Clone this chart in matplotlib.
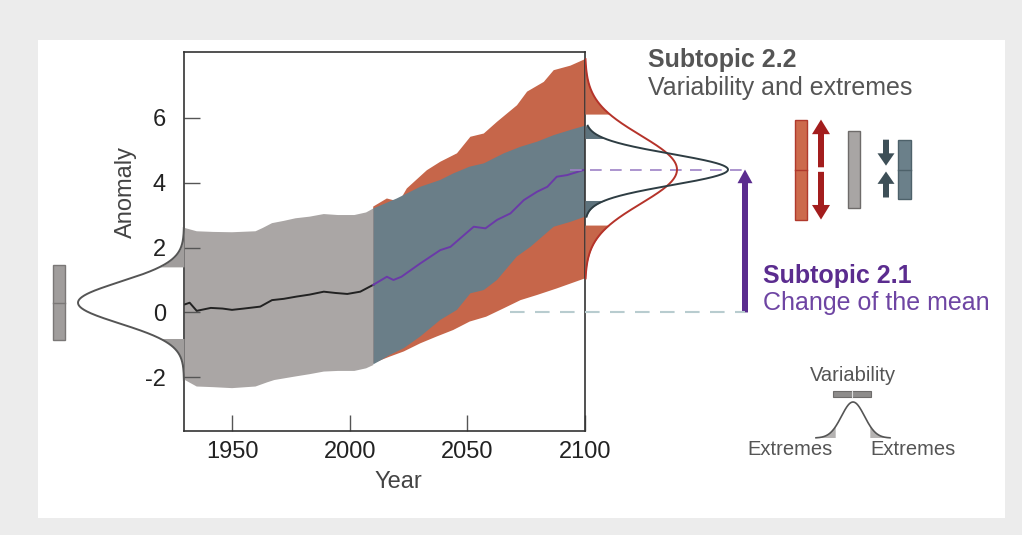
import numpy as np
import matplotlib
matplotlib.use("Agg")
import matplotlib.pyplot as plt
from matplotlib.patches import Rectangle, FancyArrow

plt.rcParams['font.family'] = ['Liberation Sans', 'DejaVu Sans']
plt.rcParams['axes.unicode_minus'] = False

# ---------------- data ----------------
hist_years = [1930, 1932, 1935, 1941, 1946, 1950, 1955, 1962, 1967, 1972, 1977.5, 1983, 1989, 1994, 1999, 2004.5, 2010]
hist_mean = [0.25, 0.3, 0.05, 0.14, 0.12, 0.08, 0.12, 0.18, 0.38, 0.42, 0.49, 0.55, 0.64, 0.6, 0.57, 0.64, 0.85]

gray_up_years = [1930, 1935, 1942, 1950, 1960, 1963, 1967, 1972, 1977, 1983, 1989, 1995, 2002, 2007, 2010]
gray_up = [2.6, 2.5, 2.48, 2.47, 2.5, 2.6, 2.75, 2.82, 2.9, 2.95, 3.03, 3.0, 3.0, 3.08, 3.2]
gray_lo_years = [1930, 1935, 1942, 1950, 1960, 1965, 1968, 1977, 1983, 1989, 1995, 2002, 2007, 2010]
gray_lo = [-2.08, -2.28, -2.3, -2.33, -2.28, -2.15, -2.08, -1.97, -1.9, -1.82, -1.8, -1.8, -1.72, -1.62]

proj_years = [2010, 2015.8, 2018.6, 2022, 2030, 2038.5, 2042.8, 2052.7, 2057.7, 2062.6, 2068.3, 2074, 2079.7, 2084, 2088, 2092.4, 2100]
proj_mean = [0.85, 1.1, 1.0, 1.1, 1.51, 1.92, 2.02, 2.64, 2.59, 2.85, 3.05, 3.46, 3.72, 3.87, 4.18, 4.23, 4.4]

red_up_years = [2010, 2015.8, 2021, 2024.3, 2032.8, 2038.5, 2045.6, 2051.3, 2057, 2062.6, 2071.1, 2075.4, 2082.5, 2086.7, 2093.8, 2100]
red_up = [3.26, 3.51, 3.41, 3.82, 4.38, 4.64, 4.9, 5.41, 5.51, 5.87, 6.38, 6.8, 7.1, 7.46, 7.6, 7.8]
red_lo_years = [2010, 2017, 2023, 2030, 2037, 2044, 2051, 2058, 2065.5, 2072.6, 2079.7, 2088, 2100]
red_lo = [-1.56, -1.36, -1.2, -0.95, -0.74, -0.54, -0.28, -0.13, 0.13, 0.38, 0.54, 0.74, 1.05]

blue_up_years = [2010, 2020, 2030, 2038.5, 2044, 2051, 2057, 2065.5, 2072.5, 2079.7, 2086.7, 2093.8, 2100]
blue_up = [3.2, 3.51, 3.87, 4.08, 4.28, 4.49, 4.59, 4.9, 5.1, 5.26, 5.46, 5.62, 5.75]
blue_lo_years = [2010, 2013, 2017, 2023, 2030, 2038.5, 2045.6, 2051.3, 2057, 2062.6, 2071, 2076.8, 2086.7, 2093.8, 2100]
blue_lo = [-1.6, -1.48, -1.31, -1.1, -0.74, -0.23, 0.08, 0.59, 0.69, 1.0, 1.72, 2.02, 2.64, 2.79, 2.95]

# distribution parameters (mean, spread, tail threshold)
start_mean, start_sd, start_tail = 0.3, 0.64, 1.1
end_mean = 4.4
blue_sd, blue_tail = 0.48, 0.95
red_sd, red_tail = 1.05, 1.7

x_ticks = [1950, 2000, 2050, 2100]
y_ticks = [-2, 0, 2, 4, 6]

# ---------------- colours ----------------
C_GRAY = '#aaa6a5'
C_BLUE = '#6a7e88'
C_RED = '#c6664a'
C_PURPLE = '#5b2c8f'
C_TXT = '#555555'

W, H = 1022, 535
fig = plt.figure(figsize=(W / 100, H / 100), dpi=100, facecolor='#ececec')


def px_ax(l, t, r, b, **kw):
    return fig.add_axes([l / W, 1 - b / H, (r - l) / W, (b - t) / H], **kw)


bg = fig.add_axes([0, 0, 1, 1])
bg.set_xlim(0, W)
bg.set_ylim(H, 0)
bg.axis('off')
bg.add_patch(Rectangle((38, 40), 967, 478, color='white', lw=0))

YLIM = (-3.65, 8.02)
ax = px_ax(184, 52, 585, 431)
ax.set_xlim(1929.6, 2100)
ax.set_ylim(*YLIM)

ax.fill(np.r_[red_up_years, red_lo_years[::-1]], np.r_[red_up, red_lo[::-1]], color=C_RED, lw=0)
ax.fill(np.r_[blue_up_years, blue_lo_years[::-1]], np.r_[blue_up, blue_lo[::-1]], color=C_BLUE, lw=0)
ax.fill(np.r_[gray_up_years, gray_lo_years[::-1]], np.r_[gray_up, gray_lo[::-1]], color=C_GRAY, lw=0)
ax.plot(hist_years, hist_mean, color='#222222', lw=1.4)
ax.plot(proj_years, proj_mean, color='#6a3aa8', lw=1.4)

ax.set_xticks(x_ticks)
ax.set_yticks(y_ticks)
ax.tick_params(direction='in', length=11.5, width=1.0, color='#555555',
               labelsize=17, labelcolor='#222222')
ax.tick_params(axis='y', pad=13)
ax.tick_params(axis='x', pad=7)
for s in ax.spines.values():
    s.set_color('#333333')
    s.set_linewidth(1.2)
ax.set_xlabel('Year', fontsize=17, color='#444444')
ax.set_ylabel('Anomaly', fontsize=17, color='#444444')
ax.xaxis.set_label_coords((398 - 184) / 401, (431 - 471) / 379)
ax.yaxis.set_label_coords((137 - 184) / 401, (431 - 192) / 379)

# ---------------- left distribution ----------------
lax = px_ax(40, 52, 184, 431)
lax.set_xlim(144, 0)
lax.set_ylim(*YLIM)
lax.axis('off')
yy = np.linspace(gray_lo[0], gray_up[0], 400)
g = 106 * np.exp(-0.5 * ((yy - start_mean) / start_sd) ** 2)
lax.fill_betweenx(yy, 0, g, where=yy >= start_mean + start_tail, color='#a09d9c', lw=0, interpolate=True)
lax.fill_betweenx(yy, 0, g, where=yy <= start_mean - start_tail, color='#a09d9c', lw=0, interpolate=True)
lax.plot(g, yy, color='#555555', lw=1.4)
lax.add_patch(Rectangle((119, start_mean - 1.15), 12, 2.3, facecolor='#a09d9c', edgecolor='#7a7776', lw=1.0))
lax.plot([119, 131], [start_mean, start_mean], color='#7a7776', lw=1.0)

# ---------------- right distributions and icons ----------------
rax = px_ax(585, 52, 1004, 431)
rax.set_xlim(0, 419)
rax.set_ylim(*YLIM)
rax.axis('off')

rax.plot([-75, 160], [0, 0], color='#b8cccf', lw=1.5, dashes=(7, 5), clip_on=False)
rax.plot([-15, 160], [end_mean, end_mean], color='#9d82c6', lw=1.2, dashes=(7, 5), clip_on=False)

yr = np.linspace(red_lo[-1], red_up[-1], 400)
gr = 92 * np.exp(-0.5 * ((yr - end_mean) / red_sd) ** 2)
rax.fill_betweenx(yr, 0, gr, where=yr >= end_mean + red_tail, color=C_RED, lw=0, interpolate=True)
rax.fill_betweenx(yr, 0, gr, where=yr <= end_mean - red_tail, color=C_RED, lw=0, interpolate=True)
rax.plot(gr, yr, color='#b5332a', lw=1.4)

yb = np.linspace(blue_lo[-1], blue_up[-1], 400)
gb = 143 * np.exp(-0.5 * ((yb - end_mean) / blue_sd) ** 2)
rax.fill_betweenx(yb, 0, gb, where=yb >= end_mean + blue_tail, color='#5d727c', lw=0, interpolate=True)
rax.fill_betweenx(yb, 0, gb, where=yb <= end_mean - blue_tail, color='#5d727c', lw=0, interpolate=True)
rax.plot(gb, yb, color='#2e3d43', lw=1.4)

# change-of-mean arrow
rax.add_patch(FancyArrow(160, 0, 0, end_mean, width=6, head_width=15, head_length=0.42,
                         length_includes_head=True, color=C_PURPLE, lw=0))

# variability icons
rax.add_patch(Rectangle((210, end_mean - 1.54), 12, 3.08, facecolor='#cc6a4c', edgecolor='#b0392c', lw=1.0))
rax.plot([210, 222], [end_mean, end_mean], color='#b0392c', lw=1.0)
rax.add_patch(FancyArrow(236, end_mean + 0.07, 0, 1.47, width=6, head_width=18, head_length=0.45,
                         length_includes_head=True, color='#a31d1d', lw=0))
rax.add_patch(FancyArrow(236, end_mean - 0.07, 0, -1.47, width=6, head_width=18, head_length=0.45,
                         length_includes_head=True, color='#a31d1d', lw=0))
rax.add_patch(Rectangle((263, end_mean - 1.18), 12, 2.36, facecolor='#a8a5a4', edgecolor='#6e6b6a', lw=1.0))
rax.add_patch(FancyArrow(301, end_mean + 0.92, 0, -0.8, width=6, head_width=17, head_length=0.38,
                         length_includes_head=True, color='#3d4f57', lw=0))
rax.add_patch(FancyArrow(301, end_mean - 0.86, 0, 0.8, width=6, head_width=17, head_length=0.38,
                         length_includes_head=True, color='#3d4f57', lw=0))
rax.add_patch(Rectangle((313, end_mean - 0.92), 13, 1.84, facecolor='#6b808a', edgecolor='#4d616a', lw=1.0))
rax.plot([313, 326], [end_mean, end_mean], color='#4d616a', lw=1.0)

# ---------------- texts ----------------
bg.text(648, 67, 'Subtopic 2.2', fontsize=18, fontweight='bold', color=C_TXT, va='baseline')
bg.text(648, 95, 'Variability and extremes', fontsize=18, color=C_TXT, va='baseline')
bg.text(763, 283, 'Subtopic 2.1', fontsize=18, fontweight='bold', color=C_PURPLE, va='baseline')
bg.text(763, 310, 'Change of the mean', fontsize=18, color='#6e45a3', va='baseline')

# legend-like schematic (bottom right)
bg.text(853, 381, 'Variability', fontsize=14.5, color=C_TXT, ha='center', va='baseline')
bg.text(790, 455, 'Extremes', fontsize=14.5, color=C_TXT, ha='center', va='baseline')
bg.text(913, 455, 'Extremes', fontsize=14.5, color=C_TXT, ha='center', va='baseline')
bg.add_patch(Rectangle((833, 391), 38, 6, facecolor='#8e8c8b', edgecolor='#6e6c6b', lw=0.8))
bg.plot([852, 852], [391, 397], color='#dddddd', lw=0.8)
sx = np.linspace(-37, 37, 200)
sy = 438 - 36 * np.exp(-0.5 * (sx / 11.5) ** 2)
bg.fill_between(853 + sx, 438, sy, where=np.abs(sx) >= 17, color='#b5b3b2', lw=0, interpolate=True)
bg.plot(853 + sx, sy, color='#555555', lw=1.2)

fig.savefig('out.png', dpi=100, facecolor=fig.get_facecolor())
